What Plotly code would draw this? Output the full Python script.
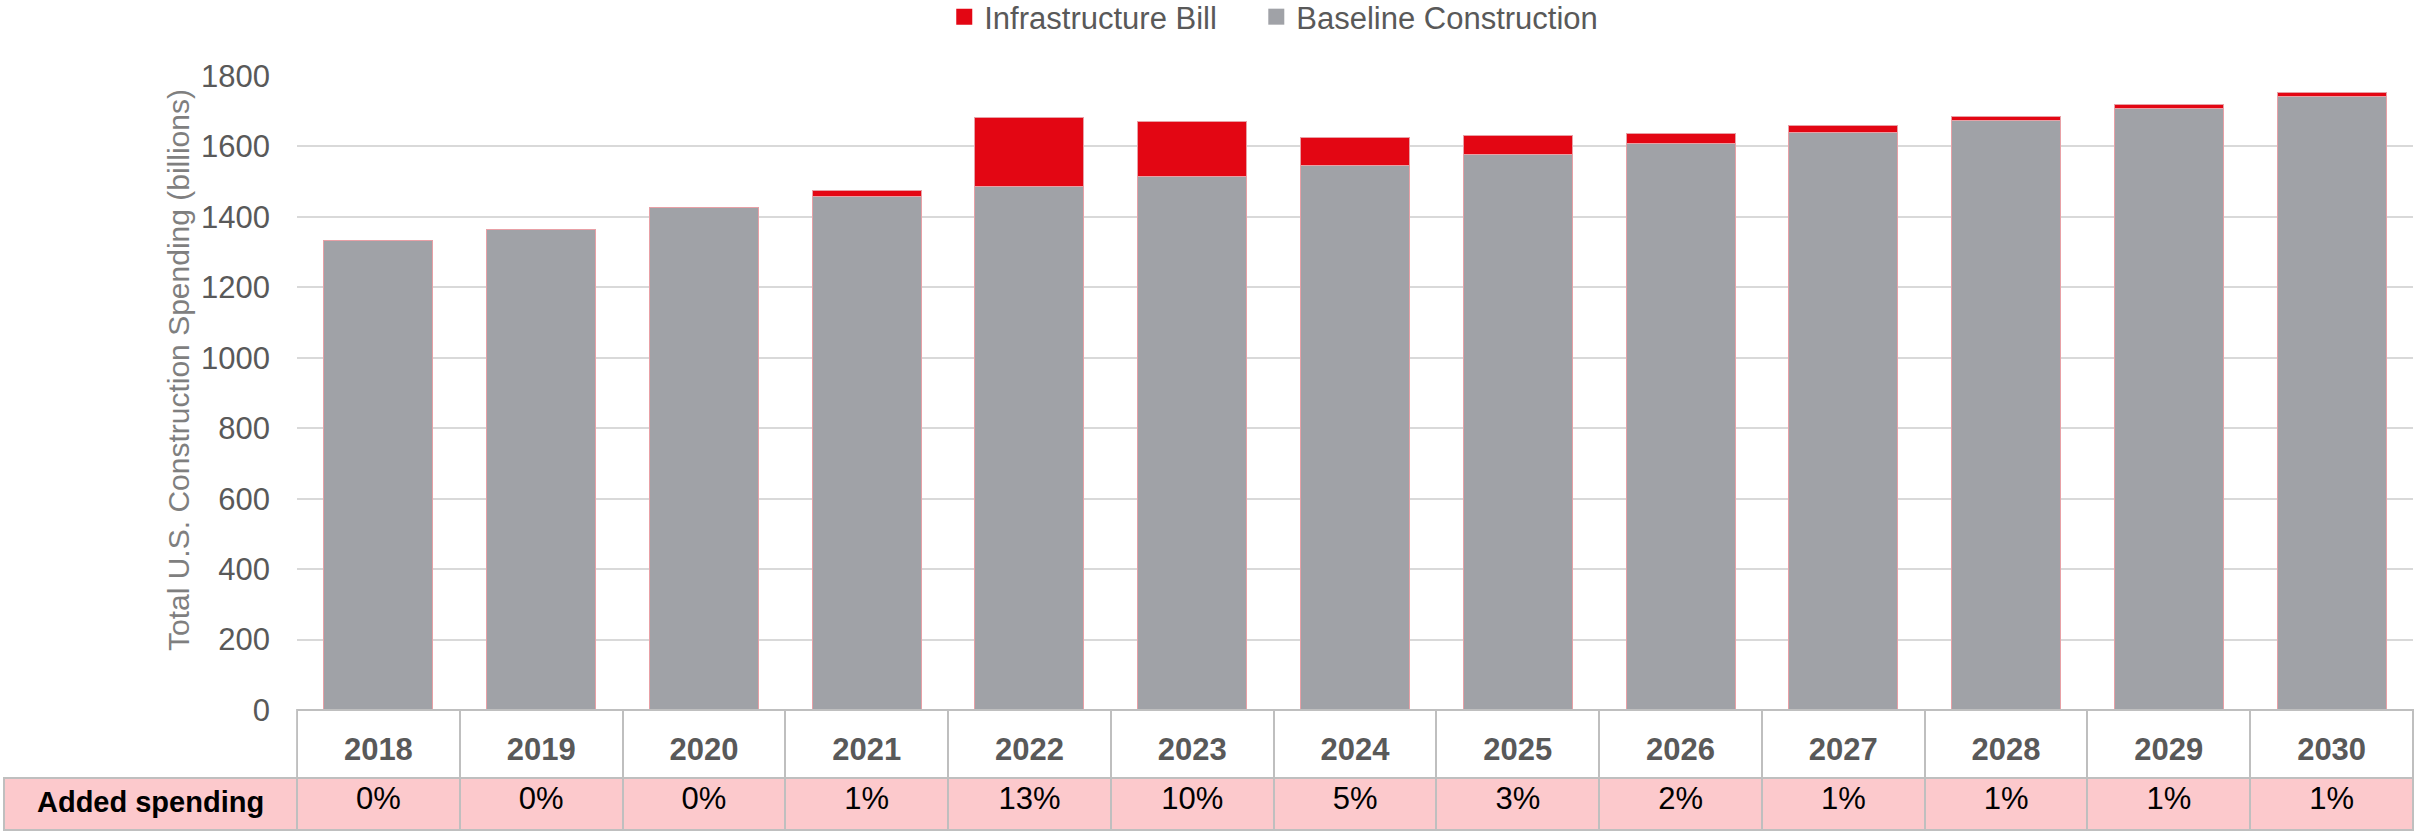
import plotly.graph_objects as go

# values (billions of dollars)
years = ['2018', '2019', '2020', '2021', '2022', '2023', '2024',
         '2025', '2026', '2027', '2028', '2029', '2030']
baseline = [1332, 1363, 1428, 1457, 1486, 1516, 1546, 1576, 1609, 1641, 1674, 1708, 1743]
infra_bill = [0, 0, 0, 19, 196, 156, 79, 54, 27, 18, 12, 11, 11]
added_spending = ['0%', '0%', '0%', '1%', '13%', '10%', '5%', '3%', '2%', '1%', '1%', '1%', '1%']
y_ticks = [0, 200, 400, 600, 800, 1000, 1200, 1400, 1600, 1800]

W, H = 2417, 831
FONT = 'Liberation Sans, Arial, sans-serif'
GREY_TEXT = '#595959'
BORDER = '#BFBFBF'
BAR_EDGE = '#E8A0A6'
RED = '#E30613'
GREY_BAR = '#A0A2A7'
CLEAR = 'rgba(0,0,0,0)'
NBSP = '\u00a0'

fig = go.Figure()
fig.add_trace(go.Bar(
    x=years, y=baseline, name='Baseline Construction', showlegend=False,
    marker=dict(color=GREY_BAR, line=dict(color=BAR_EDGE, width=1))
))
fig.add_trace(go.Bar(
    x=years, y=infra_bill, name='Infrastructure Bill', showlegend=False,
    marker=dict(color=RED, line=dict(color=BAR_EDGE, width=1))
))

# legend entries with bigger square swatches
legend_items = [('Infrastructure Bill' + NBSP * 4, RED), ('Baseline Construction', GREY_BAR)]
for name, color in legend_items:
    fig.add_trace(go.Scatter(
        x=[None], y=[None], mode='markers', name=name,
        marker=dict(symbol='square', size=17, color=color)
    ))

# data table under the bars (year labels come from the x axis ticks)
fig.add_trace(go.Table(
    domain=dict(x=[4 / W, 2413 / W], y=[0, 121 / H]),
    columnwidth=[293] + [162.7] * len(years),
    header=dict(
        values=[''] * (len(years) + 1),
        height=68,
        fill_color=CLEAR,
        line=dict(color=[CLEAR] + [BORDER] * len(years), width=2),
    ),
    cells=dict(
        values=[['<b>Added spending</b>']] + [[p] for p in added_spending],
        height=52,
        fill_color='#FCC9CC',
        line=dict(color=BORDER, width=2),
        font=dict(family=FONT, size=[29] + [31] * len(years), color='black'),
        align='center'
    )
))

# y title as an annotation so it can sit a little above the axis middle
fig.add_annotation(
    text='Total U.S. Construction Spending (billions)',
    xref='paper', yref='paper', x=179 / W, y=(H - 370) / H,
    xanchor='center', yanchor='middle', textangle=-90, showarrow=False,
    font=dict(family=FONT, size=30, color='#7F7F7F')
)

fig.update_layout(
    width=W, height=H,
    margin=dict(l=0, r=0, t=0, b=0, autoexpand=False),
    paper_bgcolor='white', plot_bgcolor='white',
    barmode='stack', bargap=0.33,
    font=dict(family=FONT, color=GREY_TEXT),
    showlegend=True,
    legend=dict(
        orientation='h', x=0.527, xanchor='center', y=1.012, yanchor='top',
        traceorder='normal', font=dict(size=31, color=GREY_TEXT), itemwidth=30
    ),
    xaxis=dict(
        domain=[297 / W, 2413 / W], showgrid=False, zeroline=False, automargin=False,
        tickfont=dict(size=31, color=GREY_TEXT, weight='bold'), ticklabelstandoff=18
    ),
    yaxis=dict(
        domain=[121 / H, 755 / H], range=[0, 1800], tickvals=y_ticks,
        gridcolor='#D9D9D9', gridwidth=2, zeroline=False, automargin=False,
        tickfont=dict(size=31, color=GREY_TEXT), ticklabelstandoff=26
    )
)

fig.write_html('out.html', config={'displayModeBar': False},
               post_script="document.body.style.margin='0';")
